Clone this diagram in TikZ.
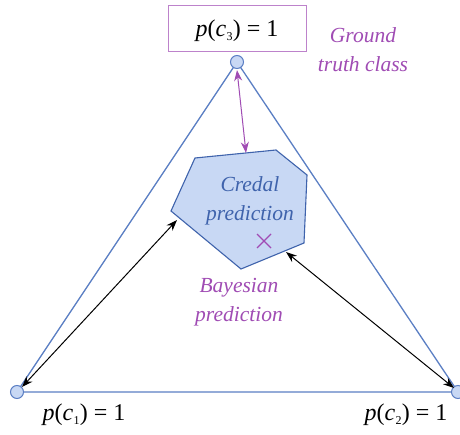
\documentclass[tikz,border=0pt]{standalone}
\usepackage{fontspec}
\setmainfont{Liberation Serif}
\usetikzlibrary{arrows.meta}
\definecolor{triblue}{HTML}{5B7FC4}
\definecolor{fillblue}{HTML}{C8D8F4}
\definecolor{darkblue}{HTML}{3F63AC}
\definecolor{purp}{HTML}{A04CB4}
\newcommand{\pc}[1]{\textit{p}(\textit{c}\kern0.3pt\raisebox{-0.35ex}{\fontsize{12}{12}\selectfont #1}\kern0.3pt) = 1}
\begin{document}
\begin{tikzpicture}[x=1pt,y=-1pt,
  vert/.style={circle,draw=triblue,fill=fillblue,line width=1pt,minimum size=13pt,inner sep=0pt},
  lbl/.style={font=\fontsize{24}{28}\selectfont,inner sep=0pt},
  note/.style={font=\fontsize{21.5}{29}\selectfont\itshape,align=center,inner sep=0pt},
  darr/.style={{Stealth[length=11pt,width=8pt]}-{Stealth[length=11pt,width=8pt]},line width=1pt}]
\useasboundingbox (0,0) rectangle (460,435);
\fill[white] (0,0) rectangle (460,435);
% triangle
\coordinate (t) at (237,62);
\coordinate (l) at (17,392);
\coordinate (r) at (458,392);
\draw[triblue,line width=1.3pt] (t) -- (l) -- (r) -- cycle;
\node[vert] (vt) at (t) {};
\node[vert] (vl) at (l) {};
\node[vert] (vr) at (r) {};
% credal set
\draw[darkblue,fill=fillblue,line width=1.1pt] (195,158) coordinate (p1) -- (276,150) coordinate (p2) -- (307,175) coordinate (p3) -- (304,243) coordinate (p4) -- (241,269) coordinate (p5) -- (171,211) coordinate (p6) -- cycle;
\node[note,text=darkblue] (credal) at (250,201) {Credal\\prediction};
\coordinate (bayes) at (264,241);
\draw[purp,line width=1.1pt] ([shift={(-7,-7)}]bayes) -- ([shift={(7,7)}]bayes)
  ([shift={(-7,7)}]bayes) -- ([shift={(7,-7)}]bayes);
\node[note,text=purp] (bayeslbl) at (239,302) {Bayesian\\prediction};
% labels
\node[draw=purp!70,line width=1pt,minimum width=138pt,minimum height=46pt,inner sep=0pt] (box3) at (237,29) {};
\node[lbl] (c3) at (237,31) {\pc{3}};
\node[note,text=purp] (gt) at (363,50) {Ground\\truth class};
\node[lbl] (c1) at (84,415) {\pc{1}};
\node[lbl] (c2) at (406,415) {\pc{2}};
% arrows
\coordinate (a1) at (237,70);
\coordinate (a2) at (246,153);
\draw[darr,purp] (a1) -- (a2);
\coordinate (b1) at (177,220);
\coordinate (b2) at (22,387);
\draw[darr,black] (b1) -- (b2);
\coordinate (d1) at (286,252);
\coordinate (d2) at (454,388);
\draw[darr,black] (d1) -- (d2);
\end{tikzpicture}
\end{document}
